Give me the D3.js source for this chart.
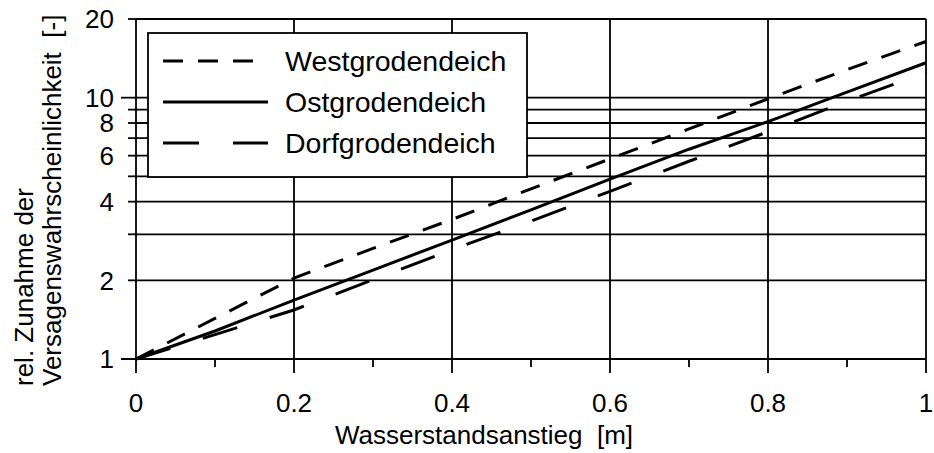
<!DOCTYPE html>
<html>
<head>
<meta charset="utf-8">
<script src="https://cdn.jsdelivr.net/npm/d3@7"></script>
<style>
html,body{margin:0;padding:0;background:#fff;}
svg{display:block;font-family:"Liberation Sans",Arial,Helvetica,sans-serif;}
</style>
</head>
<body>
<svg id="chart" width="934" height="453"></svg>
<script>
// ---- data ----
const xValues = [0, 0.1, 0.2, 0.3, 0.4, 0.5, 0.6, 0.7, 0.8, 0.9, 1.0];
const westgroden = [1, 1.43, 2.04, 2.65, 3.42, 4.48, 5.83, 7.59, 9.9, 12.8, 16.4];
const ostgroden  = [1, 1.28, 1.68, 2.19, 2.85, 3.72, 4.88, 6.35, 8.1, 10.5, 13.6];
const dorfgroden = [1, 1.24, 1.54, 2.01, 2.62, 3.37, 4.38, 5.71, 7.41, 9.69, 12.47];
const seriesNames = ["Westgrodendeich", "Ostgrodendeich", "Dorfgrodendeich"];
const xTickValues = [0, 0.2, 0.4, 0.6, 0.8, 1];
const xTickLabels = ["0", "0.2", "0.4", "0.6", "0.8", "1"];
const xMinorTicks = [0.1, 0.3, 0.5, 0.7, 0.9];
const yLabelValues = [1, 2, 4, 6, 8, 10, 20];
const yGridValues = [2, 3, 4, 5, 6, 7, 8, 9, 10];
const yMinorTicks = [2, 3, 4, 5, 6, 7, 8, 9, 20];
const yMajorTicks = [1, 10];
const xTitle = "Wasserstandsanstieg  [m]";
const yTitle1 = "rel. Zunahme der";
const yTitle2 = "Versagenswahrscheinlichkeit  [-]";

// ---- layout ----
const L = 136, R = 926, T = 19, B = 359;
const FS = 26, LFS = 28.5;
const svg = d3.select("#chart");
const x = d3.scaleLinear().domain([0, 1]).range([L, R]);
const y = d3.scaleLog().domain([1, 20]).range([B, T]);
const sw = 1.8;

const grid = svg.append("g").attr("stroke", "#000").attr("stroke-width", sw).attr("fill", "none");
grid.selectAll("line.hg").data(yGridValues).join("line")
  .attr("x1", L).attr("x2", R).attr("y1", d => y(d)).attr("y2", d => y(d));
grid.append("line").attr("x1", L).attr("x2", R).attr("y1", y(20)).attr("y2", y(20));
grid.append("line").attr("x1", L - 15).attr("x2", R).attr("y1", y(1)).attr("y2", y(1));
grid.selectAll("line.ymaj").data(yMajorTicks).join("line")
  .attr("x1", L - 15).attr("x2", L).attr("y1", d => y(d)).attr("y2", d => y(d));
grid.selectAll("line.ymin").data(yMinorTicks).join("line")
  .attr("x1", L - 8).attr("x2", L).attr("y1", d => y(d)).attr("y2", d => y(d));
grid.selectAll("line.vg").data(xTickValues).join("line")
  .attr("x1", d => x(d)).attr("x2", d => x(d)).attr("y1", T).attr("y2", B + 14);
grid.selectAll("line.xmin").data(xMinorTicks).join("line")
  .attr("x1", d => x(d)).attr("x2", d => x(d)).attr("y1", B).attr("y2", B + 8);

// tick labels
svg.append("g").selectAll("text").data(xTickValues).join("text")
  .attr("x", d => x(d)).attr("y", 412).attr("text-anchor", "middle")
  .attr("font-size", FS).text((d, i) => xTickLabels[i]);
svg.append("g").selectAll("text").data(yLabelValues).join("text")
  .attr("x", 114).attr("y", d => y(d)).attr("dy", "0.36em").attr("text-anchor", "end")
  .attr("font-size", FS).text(d => String(d));

// axis titles
svg.append("text").attr("x", (L + R) / 2 - 47).attr("y", 444).attr("text-anchor", "middle")
  .attr("font-size", FS).style("white-space", "pre").text(xTitle);
svg.append("text").attr("transform", "translate(33,386) rotate(-90)").attr("text-anchor", "start")
  .attr("font-size", FS).text(yTitle1);
svg.append("text").attr("transform", "translate(61,386) rotate(-90)").attr("text-anchor", "start")
  .attr("font-size", FS).style("white-space", "pre").text(yTitle2);

// legend
const lg = svg.append("g");
lg.append("rect").attr("x", 148).attr("y", 33).attr("width", 379).attr("height", 144)
  .attr("fill", "#fff").attr("stroke", "#000").attr("stroke-width", sw);
const dashes = ["20,15", null, "36,34"];
const legendY = [61, 102, 143];
seriesNames.forEach((n, i) => {
  lg.append("line").attr("x1", 163).attr("x2", 268).attr("y1", legendY[i]).attr("y2", legendY[i])
    .attr("stroke", "#000").attr("stroke-width", 3).attr("stroke-dasharray", dashes[i]);
  lg.append("text").attr("x", 285).attr("y", legendY[i]).attr("dy", "0.36em")
    .attr("font-size", LFS).text(n);
});

// data lines
const allSeries = [westgroden, ostgroden, dorfgroden];
const line = d3.line().x((d, i) => x(xValues[i])).y(d => y(d));
allSeries.forEach((s, i) => {
  svg.append("path").datum(s).attr("d", line).attr("fill", "none")
    .attr("stroke", "#000").attr("stroke-width", 3)
    .attr("stroke-dasharray", dashes[i]);
});
</script>
</body>
</html>
